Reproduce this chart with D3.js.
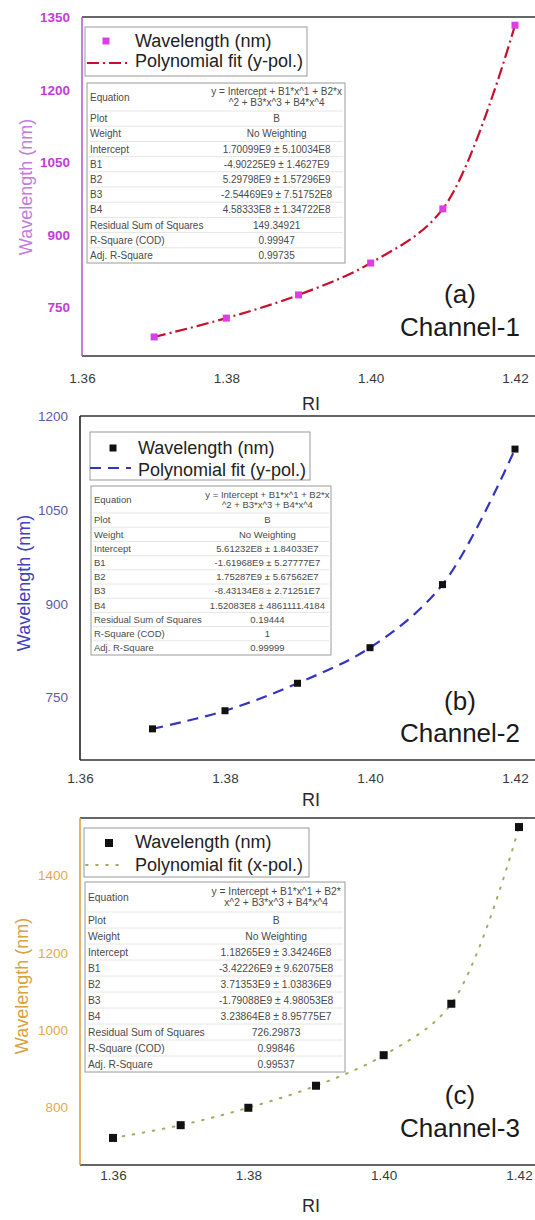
<!DOCTYPE html>
<html>
<head>
<meta charset="utf-8">
<script src="https://cdn.jsdelivr.net/npm/d3@7/dist/d3.min.js"></script>
<style>
  html, body { margin: 0; padding: 0; background: #fff; }
  svg { display: block; font-family: "Liberation Sans", Arial, sans-serif; }
</style>
</head>
<body>
<svg id="chart" width="535" height="1220"></svg>
<script>
// ---- data ----
const xTicks = [1.36, 1.38, 1.40, 1.42];

const riA = [1.37, 1.38, 1.39, 1.40, 1.41, 1.42];
const wlA = [688, 727, 775, 841, 953, 1333];
const yTicksA = [750, 900, 1050, 1200, 1350];

const riB = [1.37, 1.38, 1.39, 1.40, 1.41, 1.42];
const wlB = [699, 728, 772, 829, 930, 1147];
const yTicksB = [750, 900, 1050, 1200];

const riC = [1.36, 1.37, 1.38, 1.39, 1.40, 1.41, 1.42];
const wlC = [720, 753, 798, 855, 934, 1067, 1524];
const yTicksC = [800, 1000, 1200, 1400];

const statLabels = ["Equation", "Plot", "Weight", "Intercept", "B1", "B2", "B3", "B4",
  "Residual Sum of Squares", "R-Square (COD)", "Adj. R-Square"];

const eqA = ["y = Intercept + B1*x^1 + B2*x", "^2 + B3*x^3 + B4*x^4"];
const statsA = ["B", "No Weighting", "1.70099E9 ± 5.10034E8", "-4.90225E9 ± 1.4627E9",
  "5.29798E9 ± 1.57296E9", "-2.54469E9 ± 7.51752E8", "4.58333E8 ± 1.34722E8",
  "149.34921", "0.99947", "0.99735"];

const eqB = ["y = Intercept + B1*x^1 + B2*x", "^2 + B3*x^3 + B4*x^4"];
const statsB = ["B", "No Weighting", "5.61232E8 ± 1.84033E7", "-1.61968E9 ± 5.27777E7",
  "1.75287E9 ± 5.67562E7", "-8.43134E8 ± 2.71251E7", "1.52083E8 ± 4861111.4184",
  "0.19444", "1", "0.99999"];

const eqC = ["y = Intercept + B1*x^1 + B2*", "x^2 + B3*x^3 + B4*x^4"];
const statsC = ["B", "No Weighting", "1.18265E9 ± 3.34246E8", "-3.42226E9 ± 9.62075E8",
  "3.71353E9 ± 1.03836E9", "-1.79088E9 ± 4.98053E8", "3.23864E8 ± 8.95775E7",
  "726.29873", "0.99846", "0.99537"];

const legendA = ["Wavelength (nm)", "Polynomial fit (y-pol.)"];
const legendB = ["Wavelength (nm)", "Polynomial fit (y-pol.)"];
const legendC = ["Wavelength (nm)", "Polynomial fit (x-pol.)"];

// ---- panel layout & style ----
const panels = [
  {
    ri: riA, wl: wlA, yTicks: yTicksA, eq: eqA, stats: statsA, legend: legendA,
    tag: "(a)", channel: "Channel-1",
    left: 82, top: 17, bottom: 356, xRange: [82, 515],
    yDomain: [750, 1350], yRange: [307, 17],
    tickBase: 383, riBase: 410, yLabX: 26, yLabCY: 187, yTickRight: 70,
    leg: { x: 85, y: 27, w: 222, h: 49, mx: 106, my: 41, tx: 135, b1: 47, b2: 67, l0: 87, l1: 130, ly: 63 },
    tbl: { x: 87, y: 83, w: 258, h: 180, eqH: 28, fs: 10 },
    tagBase: 303, chBase: 336,
    marker: "#dc3ee6", msize: 7, line: "#c8102e", lw: 2.2, dash: "12,4,2,4",
    tickCol: "#c43cd8", tickWeight: "bold", labCol: "#c47ae2", axisCol: "#b55ed6"
  },
  {
    ri: riB, wl: wlB, yTicks: yTicksB, eq: eqB, stats: statsB, legend: legendB,
    tag: "(b)", channel: "Channel-2",
    left: 80, top: 416, bottom: 760, xRange: [80, 515],
    yDomain: [750, 1200], yRange: [697, 416],
    tickBase: 783, riBase: 806, yLabX: 24, yLabCY: 583, yTickRight: 68,
    leg: { x: 90, y: 432, w: 220, h: 48, mx: 113, my: 448, tx: 138, b1: 454, b2: 476, l0: 90, l1: 131, ly: 468 },
    tbl: { x: 91, y: 486, w: 240, h: 169, eqH: 27, fs: 9.5 },
    tagBase: 710, chBase: 742,
    marker: "#111", msize: 7, line: "#3434c2", lw: 2.2, dash: "11,7",
    tickCol: "#5a5aaa", tickWeight: "normal", labCol: "#4040c4", axisCol: "#222"
  },
  {
    ri: riC, wl: wlC, yTicks: yTicksC, eq: eqC, stats: statsC, legend: legendC,
    tag: "(c)", channel: "Channel-3",
    left: 80, top: 818, bottom: 1165, xRange: [113, 519],
    yDomain: [800, 1400], yRange: [1107, 875],
    tickBase: 1180, riBase: 1212, yLabX: 22, yLabCY: 986, yTickRight: 68,
    leg: { x: 84, y: 828, w: 225, h: 49, mx: 109, my: 843, tx: 135, b1: 848, b2: 871, l0: 86, l1: 122, ly: 865 },
    tbl: { x: 85, y: 882, w: 260, h: 190, eqH: 30, fs: 10.3 },
    tagBase: 1104, chBase: 1137,
    marker: "#111", msize: 8, line: "#a9a862", lw: 2, dash: "1.6,8.5",
    tickCol: "#e3aa4c", tickWeight: "normal", labCol: "#dba040", axisCol: "#e0a040"
  }
];

const svg = d3.select("#chart");
const W = 535;

panels.forEach(p => {
  const g = svg.append("g");
  const x = d3.scaleLinear().domain([xTicks[0], xTicks[xTicks.length - 1]]).range(p.xRange);
  const y = d3.scaleLinear().domain(p.yDomain).range(p.yRange);

  // frame: top and bottom rules run to the page edge, left spine coloured
  g.append("line").attr("x1", p.left).attr("x2", W + 2).attr("y1", p.top).attr("y2", p.top)
    .attr("stroke", "#333").attr("stroke-width", 1.6);
  g.append("line").attr("x1", p.left).attr("x2", W + 2).attr("y1", p.bottom).attr("y2", p.bottom)
    .attr("stroke", "#333").attr("stroke-width", 1.6);
  g.append("line").attr("x1", p.left).attr("x2", p.left).attr("y1", p.top).attr("y2", p.bottom)
    .attr("stroke", p.axisCol).attr("stroke-width", 1.6);

  // x tick labels
  const xAxis = d3.axisBottom(x).tickValues(xTicks).tickFormat(d3.format(".2f")).tickSize(0);
  const xg = g.append("g").attr("transform", `translate(0,${p.tickBase - 11})`).call(xAxis);
  xg.select(".domain").remove();
  xg.selectAll("text").attr("dy", 0).attr("y", 11).attr("fill", "#3a3a3a")
    .attr("font-size", 13.5).attr("font-family", "Liberation Sans, Arial, sans-serif");

  // y tick labels
  const yAxis = d3.axisLeft(y).tickValues(p.yTicks).tickFormat(d3.format("d")).tickSize(0);
  const yg = g.append("g").attr("transform", `translate(${p.yTickRight},0)`).call(yAxis);
  yg.select(".domain").remove();
  yg.selectAll("text").attr("x", 0).attr("dy", "0.35em").attr("fill", p.tickCol)
    .attr("font-size", 13.5).attr("font-weight", p.tickWeight)
    .attr("font-family", "Liberation Sans, Arial, sans-serif");

  // axis titles
  g.append("text").attr("x", 311).attr("y", p.riBase)
    .attr("text-anchor", "middle").attr("font-size", 18).attr("fill", "#2a2a2a").text("RI");
  g.append("text").attr("transform", `translate(${p.yLabX + 6},${p.yLabCY}) rotate(-90)`)
    .attr("text-anchor", "middle").attr("font-size", 18).attr("fill", p.labCol).text("Wavelength (nm)");

  // fitted curve
  const pts = p.ri.map((r, i) => [r, p.wl[i]]);
  const line = d3.line().x(d => x(d[0])).y(d => y(d[1])).curve(d3.curveCatmullRom.alpha(0.5));
  g.append("path").attr("d", line(pts)).attr("fill", "none")
    .attr("stroke", p.line).attr("stroke-width", p.lw).attr("stroke-dasharray", p.dash)
    .attr("stroke-linecap", p.dash.startsWith("1.6") ? "round" : "butt");

  // data markers
  g.selectAll("rect.pt").data(pts).join("rect").attr("class", "pt")
    .attr("x", d => x(d[0]) - p.msize / 2).attr("y", d => y(d[1]) - p.msize / 2)
    .attr("width", p.msize).attr("height", p.msize).attr("fill", p.marker);

  // legend
  const L = p.leg;
  g.append("rect").attr("x", L.x).attr("y", L.y).attr("width", L.w).attr("height", L.h)
    .attr("fill", "#fff").attr("stroke", "#999").attr("stroke-width", 1);
  g.append("rect").attr("x", L.mx - p.msize / 2).attr("y", L.my - p.msize / 2)
    .attr("width", p.msize).attr("height", p.msize).attr("fill", p.marker);
  g.append("line").attr("x1", L.l0).attr("x2", L.l1).attr("y1", L.ly).attr("y2", L.ly)
    .attr("stroke", p.line).attr("stroke-width", p.lw).attr("stroke-dasharray", p.dash)
    .attr("stroke-linecap", p.dash.startsWith("1.6") ? "round" : "butt");
  g.append("text").attr("x", L.tx).attr("y", L.b1).attr("font-size", 18).attr("fill", "#222").text(p.legend[0]);
  g.append("text").attr("x", L.tx).attr("y", L.b2).attr("font-size", 18).attr("fill", "#222").text(p.legend[1]);

  // statistics table
  const T = p.tbl;
  const rowH = (T.h - T.eqH) / (statLabels.length - 1);
  const divX = T.x + T.w * 0.47;
  const valX = (divX + T.x + T.w) / 2;
  const tg = g.append("g").attr("font-size", T.fs).attr("fill", "#4a4a4a");
  tg.append("rect").attr("x", T.x).attr("y", T.y).attr("width", T.w).attr("height", T.h)
    .attr("fill", "#fff").attr("stroke", "#9a9a9a").attr("stroke-width", 1);
  statLabels.forEach((lab, i) => {
    const rTop = i === 0 ? T.y : T.y + T.eqH + (i - 1) * rowH;
    const rH = i === 0 ? T.eqH : rowH;
    const mid = rTop + rH / 2;
    if (i > 0) {
      tg.append("line").attr("x1", T.x + 2).attr("x2", T.x + T.w - 2).attr("y1", rTop).attr("y2", rTop)
        .attr("stroke", "#e6e6e6").attr("stroke-width", 1);
    }
    tg.append("text").attr("x", T.x + 3).attr("y", mid).attr("dy", "0.35em").text(lab);
    if (i === 0) {
      tg.append("text").attr("x", valX).attr("y", mid - T.fs * 0.55).attr("dy", "0.35em")
        .attr("text-anchor", "middle").text(p.eq[0]);
      tg.append("text").attr("x", valX).attr("y", mid + T.fs * 0.55).attr("dy", "0.35em")
        .attr("text-anchor", "middle").text(p.eq[1]);
    } else {
      tg.append("text").attr("x", valX).attr("y", mid).attr("dy", "0.35em")
        .attr("text-anchor", "middle").text(p.stats[i - 1]);
    }
  });

  // panel tag
  g.append("text").attr("x", 460).attr("y", p.tagBase).attr("text-anchor", "middle")
    .attr("font-size", 26).attr("fill", "#1a1a1a").text(p.tag);
  g.append("text").attr("x", 460).attr("y", p.chBase).attr("text-anchor", "middle")
    .attr("font-size", 26).attr("fill", "#1a1a1a").text(p.channel);
});
</script>
</body>
</html>
